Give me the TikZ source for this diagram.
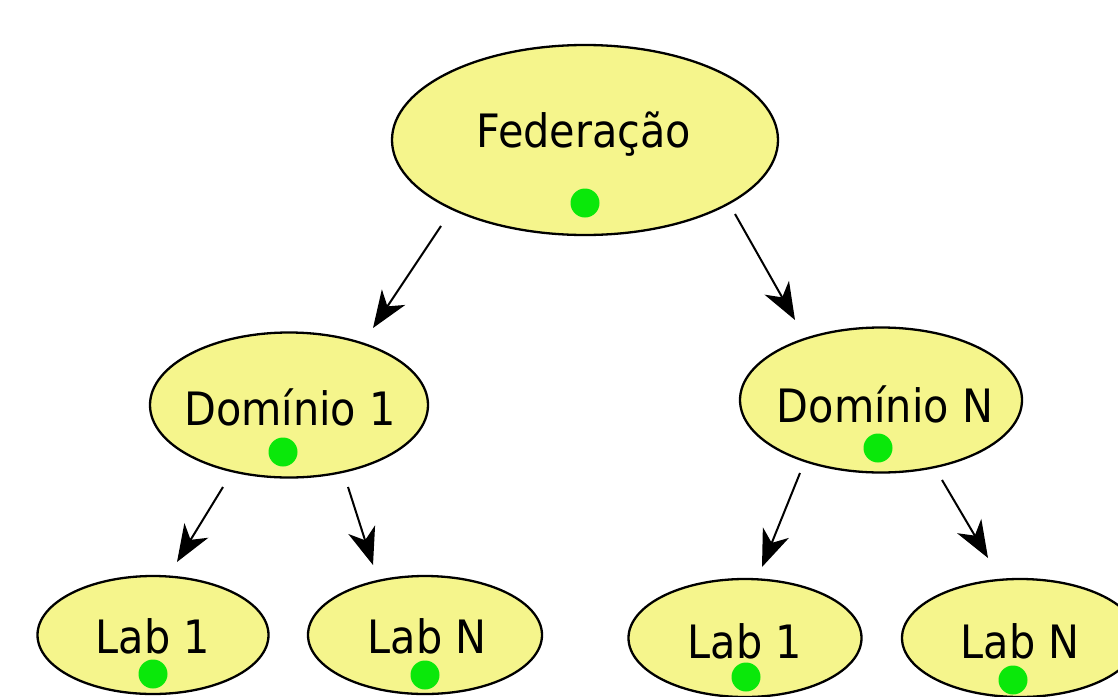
\documentclass[tikz,border=0pt]{standalone}
\usepackage{fontspec}
\setmainfont{DejaVu Sans Condensed}
\usetikzlibrary{shapes.geometric,arrows.meta}
\definecolor{nodefill}{RGB}{245,245,140}
\definecolor{dotgreen}{RGB}{10,232,10}
\tikzset{
  ell/.style={ellipse, draw=black, line width=2.3pt, fill=nodefill, inner sep=0pt},
  lbl/.style={anchor=base, font=\fontsize{46}{50}\selectfont, inner sep=0pt},
  gdot/.style={circle, fill=dotgreen, inner sep=0pt, minimum size=29pt},
  arr/.style={line width=2pt, -{Stealth[length=37pt,width=28pt,inset=11pt]}}
}
\begin{document}
\begin{tikzpicture}[x=1pt,y=-1pt]
\useasboundingbox (0,0) rectangle (1118,696);
\clip (0,0) rectangle (1118,696);
% nodes
\node[ell, minimum width=386pt, minimum height=190pt] (fed) at (585,140) {};
\node[lbl] (fedt) at (584,147) {Federação};
\node[gdot] (fedd) at (585,203) {};

\node[ell, minimum width=278pt, minimum height=145pt] (dom1) at (289,405) {};
\node[lbl] (dom1t) at (290,425) {Domínio 1};
\node[gdot] (dom1d) at (283,452) {};

\node[ell, minimum width=282pt, minimum height=145pt] (domn) at (881,400) {};
\node[lbl] (domnt) at (885,422) {Domínio N};
\node[gdot] (domnd) at (878,448) {};

\node[ell, minimum width=231pt, minimum height=118pt] (l11) at (153,635) {};
\node[lbl] (l11t) at (153,653) {Lab 1};
\node[gdot] (l11d) at (153,674) {};

\node[ell, minimum width=234pt, minimum height=118pt] (l1n) at (425,635) {};
\node[lbl] (l1nt) at (427,653) {Lab N};
\node[gdot] (l1nd) at (425,675) {};

\node[ell, minimum width=233pt, minimum height=118pt] (ln1) at (745,638) {};
\node[lbl] (ln1t) at (745,658) {Lab 1};
\node[gdot] (ln1d) at (746,677) {};

\node[ell, minimum width=236pt, minimum height=118pt] (lnn) at (1020,638) {};
\node[lbl] (lnnt) at (1020,658) {Lab N};
\node[gdot] (lnnd) at (1013,680) {};

% connector end points
\coordinate (s1) at (441,226); \coordinate (e1) at (373,328);
\coordinate (s2) at (735,214); \coordinate (e2) at (795,320);
\coordinate (s3) at (223,487); \coordinate (e3) at (177,562);
\coordinate (s4) at (348,487); \coordinate (e4) at (373,565);
\coordinate (s5) at (800,473); \coordinate (e5) at (762,567);
\coordinate (s6) at (942,480); \coordinate (e6) at (988,558);

\draw[arr] (s1) -- (e1);
\draw[arr] (s2) -- (e2);
\draw[arr] (s3) -- (e3);
\draw[arr] (s4) -- (e4);
\draw[arr] (s5) -- (e5);
\draw[arr] (s6) -- (e6);
\end{tikzpicture}
\end{document}
